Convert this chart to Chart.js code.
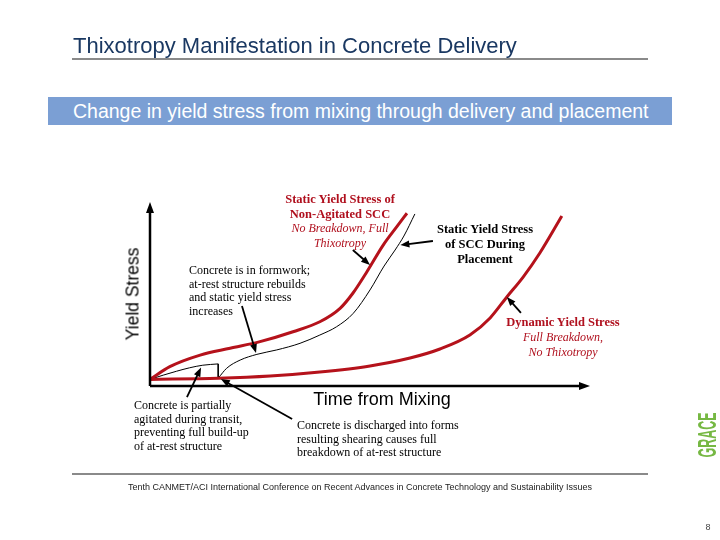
<!DOCTYPE html>
<html>
<head>
<meta charset="utf-8">
<script src="https://cdn.jsdelivr.net/npm/chart.js@4"></script>
<style>
  html, body { margin: 0; padding: 0; background: #fff; }
  #wrap { position: relative; width: 720px; height: 540px; overflow: hidden; background: #fff; }
  #c { position: absolute; left: 0; top: 0; }
  .t { position: absolute; white-space: nowrap; }
  .sans { font-family: "Liberation Sans", Arial, sans-serif; }
  .serif { font-family: "Liberation Serif", "Times New Roman", serif; font-size: 12px; }
  .red { color: #b0101e; }
  .b { font-weight: bold; font-size: 12.5px; }
  .i { font-style: italic; }
  .rule { position: absolute; background: #8a8a8a; height: 2px; }
</style>
</head>
<body>
<div id="wrap">
  <canvas id="c" width="720" height="540"></canvas>

  <div class="t sans" style="left:73px;top:33px;font-size:22px;color:#1a3862;">Thixotropy Manifestation in Concrete Delivery</div>
  <div class="rule" style="left:72px;top:58px;width:576px;"></div>

  <div style="position:absolute;left:48px;top:97px;width:624px;height:28px;background:#7b9fd4;"></div>
  <div class="t sans" style="left:73px;top:111px;font-size:19.5px;color:#fff;transform:translateY(-50%);">Change in yield stress from mixing through delivery and placement</div>

  <div class="t sans" style="left:133px;top:294px;font-size:17.5px;color:#000;transform:translate(-50%,-50%) rotate(-90deg);">Yield Stress</div>
  <div class="t sans" style="left:382px;top:399px;font-size:18px;color:#000;transform:translate(-50%,-50%);">Time from Mixing</div>

  <div class="t serif red" style="left:340px;top:192px;line-height:14.5px;text-align:center;transform:translateX(-50%);">
    <span class="b">Static Yield Stress of</span><br><span class="b">Non-Agitated SCC</span><br><span class="i">No Breakdown, Full</span><br><span class="i">Thixotropy</span>
  </div>

  <div class="t serif b" style="left:485px;top:221.5px;line-height:15px;text-align:center;transform:translateX(-50%);color:#000;">
    Static Yield Stress<br>of SCC During<br>Placement
  </div>

  <div class="t serif" style="left:189px;top:264.3px;line-height:13.4px;color:#000;">
    Concrete is in formwork;<br>at-rest structure rebuilds<br>and static yield stress<br>increases
  </div>

  <div class="t serif red" style="left:563px;top:314.5px;line-height:15px;text-align:center;transform:translateX(-50%);">
    <span class="b">Dynamic Yield Stress</span><br><span class="i">Full Breakdown,</span><br><span class="i">No Thixotropy</span>
  </div>

  <div class="t serif" style="left:134px;top:399px;line-height:13.7px;color:#000;">
    Concrete is partially<br>agitated during transit,<br>preventing full build-up<br>of at-rest structure
  </div>

  <div class="t serif" style="left:297px;top:419px;line-height:13.5px;color:#000;">
    Concrete is discharged into forms<br>resulting shearing causes full<br>breakdown of at-rest structure
  </div>

  <div class="t sans b" style="left:707px;top:435px;font-size:25px;color:#76b843;transform:translate(-50%,-50%) rotate(-90deg) scaleX(0.5);">GRACE</div>

  <div class="rule" style="left:72px;top:473px;width:576px;"></div>
  <div class="t sans" style="left:360px;top:487px;font-size:9px;color:#222;transform:translate(-50%,-50%);">Tenth CANMET/ACI International Conference on Recent Advances in Concrete Technology and Sustainability Issues</div>
  <div class="t sans" style="left:708px;top:527px;font-size:9px;color:#444;transform:translate(-50%,-50%);">8</div>
</div>

<script>
// ---- Data (time from mixing vs. yield stress, relative units 0-100) ----
const nonAgitatedX = [0, 4.5, 11.4, 18.2, 25.0, 32.5, 38.6, 43.2, 46.1, 49.3, 53.0, 56.1, 58.4];
const nonAgitatedY = [3.6, 10.5, 16.8, 20.5, 24.1, 29.5, 34.9, 42.2, 50.4, 62.1, 76.6, 86.6, 93.9];

const transitX = [0, 3, 6, 9, 12, 15.5];
const transitY = [3.6, 5.9, 8.0, 9.9, 11.3, 12.0];

const dischargeX = [15.5, 15.5];
const dischargeY = [12.0, 4.2];

const placementX = [15.6, 17.4, 20.5, 24.3, 28.8, 34.1, 38.6, 42.4, 46.2, 50.0, 53.2, 55.7, 57.7, 60.2];
const placementY = [4.5, 9.6, 14.1, 17.2, 19.6, 23.2, 27.7, 32.2, 39.5, 52.2, 65.2, 73.9, 81.5, 93.5];

const dynamicX = [0, 15.5, 27.3, 38.6, 50.0, 59.1, 65.9, 72.7, 77.3, 81.1, 84.8, 88.6, 93.6];
const dynamicY = [3.6, 4.2, 5.4, 7.6, 10.9, 15.2, 20.1, 27.7, 37.0, 48.4, 59.2, 72.3, 92.4];

// annotation arrows: [fromX, fromY, toX, toY] in data units
const arrows = [
  [46.1, 73.9, 50.0, 65.8],
  [64.3, 78.8, 56.9, 76.6],
  [20.9, 43.5, 24.1, 17.9],
  [84.3, 39.7, 81.1, 48.4],
  [8.4, -6.0, 11.6, 10.0],
  [32.3, -17.9, 16.1, 3.8]
];

const pts = (xs, ys) => xs.map((x, i) => ({ x: x, y: ys[i] }));

const RED = '#b5121b';

const overlay = {
  id: 'overlay',
  afterDatasetsDraw(chart) {
    const ctx = chart.ctx;
    const xs = chart.scales.x, ys = chart.scales.y;
    ctx.save();
    ctx.strokeStyle = '#000';
    ctx.fillStyle = '#000';
    const x0 = xs.getPixelForValue(0), x1 = xs.getPixelForValue(100);
    const y0 = ys.getPixelForValue(0), y1 = ys.getPixelForValue(100);
    ctx.lineWidth = 2.5;
    ctx.beginPath();
    ctx.moveTo(x0, y0); ctx.lineTo(x1 - 8, y0);
    ctx.moveTo(x0, y0); ctx.lineTo(x0, y1 + 8);
    ctx.stroke();
    const head = (fx, fy, tx, ty, len, wid) => {
      const a = Math.atan2(ty - fy, tx - fx);
      ctx.beginPath();
      ctx.moveTo(tx, ty);
      ctx.lineTo(tx - len * Math.cos(a) + wid * Math.sin(a), ty - len * Math.sin(a) - wid * Math.cos(a));
      ctx.lineTo(tx - len * Math.cos(a) - wid * Math.sin(a), ty - len * Math.sin(a) + wid * Math.cos(a));
      ctx.closePath();
      ctx.fill();
    };
    head(x0, y0, x1, y0, 11, 4);
    head(x0, y0, x0, y1, 11, 4);
    ctx.lineWidth = 1.8;
    arrows.forEach(a => {
      const fx = xs.getPixelForValue(a[0]), fy = ys.getPixelForValue(a[1]);
      const tx = xs.getPixelForValue(a[2]), ty = ys.getPixelForValue(a[3]);
      const ang = Math.atan2(ty - fy, tx - fx);
      ctx.beginPath();
      ctx.moveTo(fx, fy);
      ctx.lineTo(tx - 6 * Math.cos(ang), ty - 6 * Math.sin(ang));
      ctx.stroke();
      head(fx, fy, tx, ty, 9, 3.5);
    });
    ctx.restore();
  }
};

new Chart(document.getElementById('c'), {
  type: 'scatter',
  data: {
    datasets: [
      { label: 'Static Yield Stress of Non-Agitated SCC', data: pts(nonAgitatedX, nonAgitatedY), showLine: true, borderColor: RED, borderWidth: 3, pointRadius: 0, cubicInterpolationMode: 'monotone' },
      { label: 'Dynamic Yield Stress', data: pts(dynamicX, dynamicY), showLine: true, borderColor: RED, borderWidth: 3, pointRadius: 0, cubicInterpolationMode: 'monotone' },
      { label: 'Transit', data: pts(transitX, transitY), showLine: true, borderColor: '#000', borderWidth: 1, pointRadius: 0, cubicInterpolationMode: 'monotone' },
      { label: 'Discharge', data: pts(dischargeX, dischargeY), showLine: true, borderColor: '#000', borderWidth: 1, pointRadius: 0, tension: 0 },
      { label: 'Static Yield Stress of SCC During Placement', data: pts(placementX, placementY), showLine: true, borderColor: '#000', borderWidth: 1, pointRadius: 0, cubicInterpolationMode: 'monotone' }
    ]
  },
  options: {
    responsive: false,
    animation: false,
    devicePixelRatio: 1,
    layout: { padding: { left: 150, right: 130, top: 202, bottom: 154 } },
    scales: {
      x: { type: 'linear', min: 0, max: 100, display: false },
      y: { type: 'linear', min: 0, max: 100, display: false }
    },
    plugins: { legend: { display: false }, tooltip: { enabled: false } },
    clip: false
  },
  plugins: [overlay]
});
</script>
</body>
</html>
